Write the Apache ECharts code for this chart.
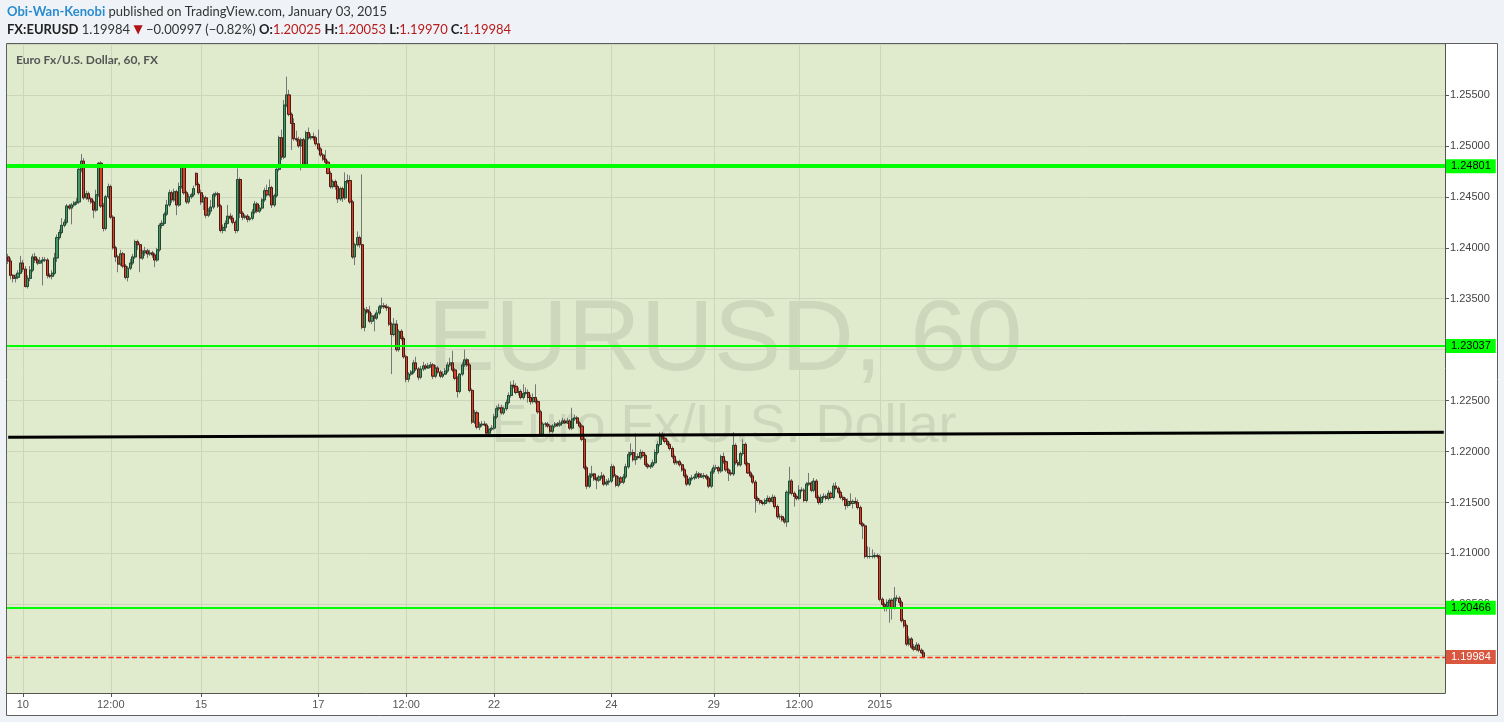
<!DOCTYPE html>
<html><head><meta charset="utf-8">
<script src="https://cdn.jsdelivr.net/npm/echarts@6/dist/echarts.min.js"></script>
<style>html,body{margin:0;padding:0;background:#eff3f7;}#c{width:1504px;height:722px;}</style>
</head><body><div id="c"></div>
<script>
// ---- data: hourly EUR/USD candles [open, close, low, high] ----
const candles = [
[1.2391,1.2387,1.2384,1.2394],[1.2387,1.2373,1.2369,1.2390],[1.2373,1.2370,1.2366,1.2374],[1.2370,1.2371,1.2366,1.2374],
[1.2371,1.2375,1.2369,1.2378],[1.2375,1.2385,1.2374,1.2392],[1.2385,1.2379,1.2376,1.2388],[1.2379,1.2362,1.2361,1.2382],
[1.2362,1.2370,1.2360,1.2373],[1.2370,1.2378,1.2367,1.2382],[1.2378,1.2391,1.2376,1.2394],[1.2391,1.2388,1.2385,1.2395],
[1.2388,1.2385,1.2383,1.2390],[1.2385,1.2387,1.2384,1.2391],[1.2387,1.2388,1.2363,1.2391],[1.2388,1.2388,1.2386,1.2391],
[1.2388,1.2373,1.2370,1.2390],[1.2373,1.2372,1.2370,1.2375],[1.2372,1.2375,1.2369,1.2378],[1.2375,1.2390,1.2373,1.2395],
[1.2390,1.2410,1.2386,1.2413],[1.2410,1.2415,1.2408,1.2418],[1.2415,1.2422,1.2413,1.2429],[1.2422,1.2425,1.2420,1.2428],
[1.2425,1.2441,1.2423,1.2443],[1.2441,1.2439,1.2437,1.2443],[1.2439,1.2442,1.2423,1.2444],[1.2442,1.2444,1.2440,1.2446],
[1.2444,1.2445,1.2442,1.2449],[1.2445,1.2477,1.2443,1.2480],[1.2477,1.2485,1.2474,1.2492],[1.2485,1.2449,1.2447,1.2488],
[1.2449,1.2453,1.2447,1.2456],[1.2453,1.2448,1.2445,1.2455],[1.2448,1.2445,1.2443,1.2450],[1.2445,1.2437,1.2429,1.2447],
[1.2437,1.2452,1.2435,1.2457],[1.2452,1.2483,1.2450,1.2484],[1.2483,1.2441,1.2439,1.2485],[1.2441,1.2419,1.2416,1.2444],
[1.2419,1.2450,1.2417,1.2452],[1.2450,1.2460,1.2448,1.2463],[1.2460,1.2430,1.2428,1.2462],[1.2430,1.2400,1.2398,1.2432],
[1.2400,1.2391,1.2386,1.2402],[1.2391,1.2384,1.2376,1.2393],[1.2384,1.2394,1.2382,1.2398],[1.2394,1.2382,1.2380,1.2396],
[1.2382,1.2371,1.2369,1.2384],[1.2371,1.2380,1.2367,1.2382],[1.2380,1.2385,1.2378,1.2389],[1.2385,1.2391,1.2383,1.2394],
[1.2391,1.2406,1.2389,1.2408],[1.2406,1.2403,1.2398,1.2408],[1.2403,1.2390,1.2376,1.2405],[1.2390,1.2395,1.2388,1.2398],
[1.2395,1.2397,1.2392,1.2401],[1.2397,1.2394,1.2390,1.2399],[1.2394,1.2395,1.2392,1.2398],[1.2395,1.2393,1.2390,1.2397],
[1.2393,1.2388,1.2381,1.2395],[1.2388,1.2398,1.2386,1.2400],[1.2398,1.2422,1.2396,1.2424],[1.2422,1.2424,1.2419,1.2427],
[1.2424,1.2433,1.2423,1.2435],[1.2433,1.2442,1.2431,1.2447],[1.2442,1.2454,1.2440,1.2457],[1.2454,1.2447,1.2444,1.2456],
[1.2447,1.2455,1.2445,1.2458],[1.2455,1.2442,1.2432,1.2457],[1.2442,1.2460,1.2440,1.2464],[1.2460,1.2479,1.2458,1.2482],
[1.2479,1.2454,1.2452,1.2481],[1.2454,1.2445,1.2443,1.2456],[1.2445,1.2450,1.2443,1.2453],[1.2450,1.2452,1.2448,1.2454],
[1.2452,1.2458,1.2450,1.2461],[1.2473,1.2462,1.2460,1.2474],[1.2462,1.2454,1.2452,1.2464],[1.2454,1.2445,1.2442,1.2457],
[1.2445,1.2449,1.2437,1.2452],[1.2449,1.2432,1.2429,1.2451],[1.2432,1.2436,1.2430,1.2439],[1.2436,1.2440,1.2433,1.2447],
[1.2440,1.2452,1.2438,1.2454],[1.2452,1.2453,1.2450,1.2455],[1.2453,1.2441,1.2439,1.2455],[1.2441,1.2417,1.2415,1.2443],
[1.2417,1.2420,1.2414,1.2423],[1.2420,1.2424,1.2416,1.2427],[1.2424,1.2431,1.2423,1.2442],[1.2431,1.2429,1.2427,1.2434],
[1.2429,1.2425,1.2423,1.2432],[1.2425,1.2417,1.2414,1.2427],[1.2417,1.2467,1.2415,1.2478],[1.2467,1.2434,1.2429,1.2469],
[1.2434,1.2430,1.2427,1.2436],[1.2430,1.2431,1.2428,1.2433],[1.2431,1.2428,1.2425,1.2433],[1.2428,1.2429,1.2426,1.2431],
[1.2429,1.2435,1.2427,1.2438],[1.2435,1.2443,1.2433,1.2446],[1.2443,1.2436,1.2434,1.2445],[1.2436,1.2439,1.2434,1.2442],
[1.2439,1.2447,1.2437,1.2449],[1.2447,1.2456,1.2445,1.2459],[1.2456,1.2452,1.2450,1.2462],[1.2452,1.2459,1.2450,1.2467],
[1.2459,1.2442,1.2439,1.2461],[1.2442,1.2451,1.2440,1.2453],[1.2451,1.2477,1.2449,1.2479],[1.2477,1.2508,1.2475,1.2510],
[1.2508,1.2489,1.2486,1.2516],[1.2489,1.2540,1.2487,1.2545],[1.2540,1.2550,1.2538,1.2568],[1.2550,1.2531,1.2529,1.2555],
[1.2531,1.2522,1.2496,1.2533],[1.2522,1.2507,1.2505,1.2527],[1.2507,1.2506,1.2504,1.2515],[1.2506,1.2500,1.2498,1.2509],
[1.2500,1.2506,1.2476,1.2508],[1.2506,1.2482,1.2480,1.2508],[1.2482,1.2513,1.2480,1.2515],[1.2513,1.2508,1.2506,1.2518],
[1.2508,1.2509,1.2506,1.2512],[1.2509,1.2508,1.2505,1.2513],[1.2508,1.2502,1.2500,1.2510],[1.2502,1.2497,1.2495,1.2516],
[1.2497,1.2491,1.2489,1.2499],[1.2491,1.2487,1.2485,1.2493],[1.2487,1.2484,1.2482,1.2496],[1.2484,1.2473,1.2472,1.2486],
[1.2473,1.2460,1.2458,1.2475],[1.2460,1.2465,1.2458,1.2467],[1.2465,1.2460,1.2457,1.2467],[1.2460,1.2448,1.2444,1.2462],
[1.2448,1.2458,1.2446,1.2460],[1.2458,1.2449,1.2445,1.2460],[1.2449,1.2465,1.2447,1.2474],[1.2465,1.2466,1.2463,1.2472],
[1.2466,1.2445,1.2443,1.2471],[1.2445,1.2391,1.2389,1.2447],[1.2391,1.2403,1.2383,1.2405],[1.2403,1.2410,1.2401,1.2416],
[1.2410,1.2403,1.2400,1.2412],[1.2403,1.2322,1.2320,1.2472],[1.2322,1.2339,1.2318,1.2341],[1.2339,1.2337,1.2335,1.2342],
[1.2337,1.2328,1.2326,1.2343],[1.2328,1.2333,1.2325,1.2336],[1.2333,1.2331,1.2318,1.2335],[1.2331,1.2336,1.2329,1.2339],
[1.2336,1.2342,1.2334,1.2344],[1.2342,1.2343,1.2340,1.2351],[1.2343,1.2342,1.2340,1.2346],[1.2342,1.2341,1.2338,1.2345],
[1.2341,1.2325,1.2323,1.2343],[1.2325,1.2315,1.2276,1.2327],[1.2315,1.2325,1.2313,1.2331],[1.2325,1.2300,1.2298,1.2329],
[1.2300,1.2318,1.2298,1.2320],[1.2318,1.2311,1.2309,1.2320],[1.2311,1.2293,1.2291,1.2313],[1.2293,1.2271,1.2268,1.2295],
[1.2271,1.2276,1.2268,1.2278],[1.2276,1.2278,1.2274,1.2280],[1.2278,1.2287,1.2276,1.2290],[1.2287,1.2281,1.2279,1.2293],
[1.2281,1.2273,1.2270,1.2283],[1.2273,1.2281,1.2271,1.2284],[1.2281,1.2284,1.2279,1.2288],[1.2284,1.2282,1.2280,1.2286],
[1.2282,1.2284,1.2281,1.2287],[1.2284,1.2285,1.2282,1.2288],[1.2285,1.2274,1.2271,1.2287],[1.2274,1.2282,1.2272,1.2285],
[1.2282,1.2278,1.2276,1.2284],[1.2278,1.2274,1.2272,1.2280],[1.2274,1.2276,1.2272,1.2279],[1.2276,1.2279,1.2275,1.2282],
[1.2279,1.2285,1.2277,1.2288],[1.2285,1.2287,1.2283,1.2292],[1.2287,1.2280,1.2278,1.2299],[1.2280,1.2272,1.2270,1.2282],
[1.2272,1.2259,1.2253,1.2274],[1.2259,1.2276,1.2257,1.2277],[1.2276,1.2285,1.2274,1.2288],[1.2285,1.2290,1.2283,1.2300],
[1.2290,1.2285,1.2283,1.2292],[1.2285,1.2260,1.2258,1.2287],[1.2260,1.2229,1.2227,1.2262],[1.2229,1.2238,1.2227,1.2241],
[1.2238,1.2224,1.2222,1.2240],[1.2224,1.2226,1.2221,1.2229],[1.2226,1.2227,1.2224,1.2230],[1.2227,1.2226,1.2225,1.2230],
[1.2226,1.2218,1.2216,1.2228],[1.2218,1.2222,1.2216,1.2225],[1.2222,1.2223,1.2220,1.2226],[1.2223,1.2234,1.2221,1.2237],
[1.2234,1.2242,1.2232,1.2245],[1.2242,1.2243,1.2240,1.2247],[1.2243,1.2238,1.2236,1.2246],[1.2238,1.2242,1.2236,1.2244],
[1.2242,1.2248,1.2240,1.2251],[1.2248,1.2255,1.2246,1.2258],[1.2255,1.2265,1.2253,1.2269],[1.2265,1.2264,1.2262,1.2270],
[1.2264,1.2258,1.2256,1.2267],[1.2258,1.2259,1.2255,1.2263],[1.2259,1.2253,1.2251,1.2261],[1.2253,1.2257,1.2251,1.2266],
[1.2257,1.2258,1.2255,1.2263],[1.2258,1.2253,1.2248,1.2261],[1.2253,1.2249,1.2246,1.2256],[1.2249,1.2253,1.2247,1.2257],
[1.2253,1.2249,1.2247,1.2266],[1.2249,1.2239,1.2237,1.2251],[1.2239,1.2217,1.2215,1.2241],[1.2217,1.2227,1.2215,1.2229],
[1.2227,1.2227,1.2224,1.2229],[1.2227,1.2225,1.2223,1.2229],[1.2225,1.2220,1.2218,1.2227],[1.2220,1.2225,1.2218,1.2227],
[1.2225,1.2227,1.2223,1.2229],[1.2227,1.2226,1.2224,1.2229],[1.2226,1.2228,1.2224,1.2231],[1.2228,1.2230,1.2227,1.2233],
[1.2230,1.2228,1.2227,1.2232],[1.2228,1.2230,1.2227,1.2233],[1.2230,1.2223,1.2221,1.2232],[1.2223,1.2232,1.2221,1.2243],
[1.2232,1.2233,1.2230,1.2236],[1.2233,1.2228,1.2227,1.2235],[1.2228,1.2225,1.2223,1.2230],[1.2225,1.2212,1.2210,1.2227],
[1.2212,1.2184,1.2182,1.2214],[1.2184,1.2166,1.2163,1.2186],[1.2166,1.2176,1.2164,1.2179],[1.2176,1.2178,1.2174,1.2186],
[1.2178,1.2173,1.2171,1.2179],[1.2173,1.2172,1.2163,1.2175],[1.2172,1.2175,1.2170,1.2177],[1.2175,1.2176,1.2173,1.2180],
[1.2176,1.2168,1.2166,1.2178],[1.2168,1.2170,1.2166,1.2173],[1.2170,1.2171,1.2167,1.2174],[1.2171,1.2185,1.2169,1.2188],
[1.2185,1.2176,1.2174,1.2187],[1.2176,1.2167,1.2165,1.2178],[1.2167,1.2174,1.2165,1.2176],[1.2174,1.2170,1.2168,1.2176],
[1.2170,1.2175,1.2168,1.2178],[1.2175,1.2185,1.2173,1.2188],[1.2185,1.2197,1.2183,1.2200],[1.2197,1.2199,1.2195,1.2208],
[1.2199,1.2192,1.2190,1.2202],[1.2192,1.2195,1.2187,1.2218],[1.2195,1.2194,1.2192,1.2198],[1.2194,1.2199,1.2192,1.2202],
[1.2199,1.2196,1.2194,1.2201],[1.2196,1.2187,1.2185,1.2198],[1.2187,1.2185,1.2183,1.2189],[1.2185,1.2186,1.2183,1.2188],
[1.2186,1.2189,1.2184,1.2192],[1.2189,1.2199,1.2187,1.2202],[1.2199,1.2207,1.2197,1.2210],[1.2207,1.2215,1.2205,1.2219],
[1.2215,1.2213,1.2211,1.2219],[1.2213,1.2210,1.2208,1.2215],[1.2210,1.2207,1.2205,1.2212],[1.2207,1.2203,1.2201,1.2209],
[1.2203,1.2195,1.2193,1.2205],[1.2195,1.2189,1.2187,1.2197],[1.2189,1.2190,1.2187,1.2192],[1.2190,1.2187,1.2185,1.2192],
[1.2187,1.2182,1.2180,1.2189],[1.2182,1.2176,1.2174,1.2184],[1.2176,1.2168,1.2166,1.2178],[1.2168,1.2173,1.2166,1.2175],
[1.2173,1.2174,1.2171,1.2177],[1.2174,1.2175,1.2172,1.2178],[1.2175,1.2178,1.2173,1.2181],[1.2178,1.2175,1.2173,1.2180],
[1.2175,1.2176,1.2174,1.2179],[1.2176,1.2176,1.2173,1.2179],[1.2176,1.2174,1.2172,1.2178],[1.2174,1.2166,1.2164,1.2176],
[1.2166,1.2180,1.2164,1.2183],[1.2180,1.2184,1.2178,1.2187],[1.2184,1.2184,1.2182,1.2187],[1.2184,1.2181,1.2178,1.2186],
[1.2181,1.2195,1.2179,1.2197],[1.2195,1.2190,1.2188,1.2199],[1.2190,1.2182,1.2180,1.2192],[1.2182,1.2179,1.2171,1.2184],
[1.2179,1.2178,1.2176,1.2182],[1.2178,1.2206,1.2176,1.2219],[1.2206,1.2189,1.2187,1.2208],[1.2189,1.2187,1.2185,1.2192],
[1.2187,1.2198,1.2185,1.2200],[1.2198,1.2207,1.2196,1.2212],[1.2207,1.2188,1.2186,1.2209],[1.2188,1.2179,1.2178,1.2190],
[1.2179,1.2176,1.2174,1.2181],[1.2176,1.2170,1.2168,1.2178],[1.2170,1.2154,1.2140,1.2172],[1.2154,1.2152,1.2150,1.2156],
[1.2152,1.2150,1.2148,1.2154],[1.2150,1.2149,1.2147,1.2152],[1.2149,1.2152,1.2147,1.2154],[1.2152,1.2154,1.2150,1.2157],
[1.2154,1.2151,1.2149,1.2156],[1.2151,1.2155,1.2149,1.2158],[1.2155,1.2146,1.2144,1.2157],[1.2146,1.2136,1.2134,1.2148],
[1.2136,1.2136,1.2133,1.2139],[1.2136,1.2133,1.2131,1.2138],[1.2133,1.2131,1.2129,1.2135],[1.2131,1.2160,1.2126,1.2162],
[1.2160,1.2171,1.2158,1.2185],[1.2171,1.2159,1.2157,1.2173],[1.2159,1.2156,1.2146,1.2161],[1.2156,1.2154,1.2152,1.2158],
[1.2154,1.2162,1.2152,1.2167],[1.2162,1.2162,1.2160,1.2165],[1.2162,1.2152,1.2150,1.2164],[1.2152,1.2168,1.2150,1.2170],
[1.2168,1.2169,1.2166,1.2179],[1.2169,1.2162,1.2160,1.2171],[1.2162,1.2171,1.2160,1.2174],[1.2171,1.2155,1.2153,1.2173],
[1.2155,1.2150,1.2148,1.2157],[1.2150,1.2155,1.2148,1.2158],[1.2155,1.2156,1.2153,1.2159],[1.2156,1.2154,1.2152,1.2158],
[1.2154,1.2159,1.2152,1.2162],[1.2159,1.2155,1.2153,1.2161],[1.2155,1.2166,1.2153,1.2169],[1.2166,1.2164,1.2162,1.2170],
[1.2164,1.2160,1.2158,1.2166],[1.2160,1.2155,1.2153,1.2162],[1.2155,1.2153,1.2151,1.2157],[1.2153,1.2147,1.2143,1.2155],
[1.2147,1.2151,1.2145,1.2154],[1.2151,1.2149,1.2147,1.2159],[1.2149,1.2151,1.2144,1.2153],[1.2151,1.2150,1.2148,1.2155],
[1.2150,1.2145,1.2143,1.2153],[1.2145,1.2129,1.2128,1.2147],[1.2129,1.2127,1.2114,1.2131],[1.2127,1.2097,1.2095,1.2129],
[1.2097,1.2097,1.2095,1.2107],[1.2097,1.2097,1.2095,1.2106],[1.2097,1.2097,1.2095,1.2104],[1.2097,1.2098,1.2095,1.2101],
[1.2098,1.2097,1.2095,1.2100],[1.2097,1.2055,1.2053,1.2099],[1.2055,1.2050,1.2048,1.2057],[1.2050,1.2048,1.2043,1.2052],
[1.2048,1.2052,1.2043,1.2055],[1.2052,1.2054,1.2032,1.2056],[1.2054,1.2047,1.2035,1.2056],[1.2047,1.2056,1.2045,1.2067],
[1.2056,1.2056,1.2053,1.2059],[1.2056,1.2052,1.2049,1.2058],[1.2052,1.2034,1.2032,1.2054],[1.2034,1.2029,1.2027,1.2036],
[1.2029,1.2011,1.2009,1.2031],[1.2011,1.2016,1.2009,1.2019],[1.2016,1.2008,1.2006,1.2018],[1.2008,1.2006,1.2004,1.2011],
[1.2006,1.2010,1.2004,1.2013],[1.2010,1.2005,1.2003,1.2012],[1.2005,1.20025,1.2001,1.2007],[1.20025,1.19984,1.19970,1.20053]
];
const slotCount = 589;                       // hourly slots on the time axis (incl. empty right margin)
const xTickIndex = [6, 42, 79, 127, 163, 199, 247, 289, 324, 357];
const xTickLabels = ['10', '12:00', '15', '17', '12:00', '22', '24', '29', '12:00', '2015'];
const levelValues = [1.24801, 1.23037, 1.20466];
const levelWidths = [4, 2, 2];
const lastPrice = 1.19984;
const trendStart = [0, 1.2214];
const trendEnd = [588, 1.2219];
const yMin = 1.1963, yMax = 1.26;

// ---- build ----
const slots = Array.from({length: slotCount}, (_, i) => String(i));
const tickMap = {};
xTickIndex.forEach((k, j) => { tickMap[k] = xTickLabels[j]; });
const isTick = (i) => tickMap[i] !== undefined;
const bodies = candles.map(d => [d[0], d[1], Math.min(d[0], d[1]), Math.max(d[0], d[1])]);
const gridColor = '#cdd6ba';
const fmt5 = v => v.toFixed(5);

const markData = levelValues.map((v, k) => ({
  yAxis: v,
  lineStyle: {color: '#00ff00', width: levelWidths[k], type: 'solid'},
  label: {show: true, position: 'end', distance: 1, formatter: fmt5(v), color: '#000',
          backgroundColor: '#00ff00', padding: [2, 5, 1, 5], fontSize: 11, fontFamily: 'Liberation Sans'}
}));
markData.push({
  yAxis: lastPrice,
  lineStyle: {color: '#ff2a10', width: 1.3, type: 'dashed', dashOffset: 0, opacity: 1},
  label: {show: true, position: 'end', distance: 1, formatter: fmt5(lastPrice), color: '#fff',
          backgroundColor: '#d9573f', padding: [2, 5, 1, 5], fontSize: 11, fontFamily: 'Liberation Sans'}
});
markData.push([
  {coord: [slots[trendStart[0]], trendStart[1]], lineStyle: {color: '#000', width: 3, type: 'solid'}, label: {show: false}},
  {coord: [slots[trendEnd[0]], trendEnd[1]]}
]);

const chart = echarts.init(document.getElementById('c'), null, {renderer: 'canvas'});
chart.setOption({
  animation: false,
  backgroundColor: '#eff3f7',
  grid: {left: 7, right: 59, top: 44, bottom: 29, show: false},
  xAxis: {
    type: 'category', data: slots, boundaryGap: true,
    axisLine: {lineStyle: {color: '#555', width: 1}},
    axisTick: {show: true, alignWithLabel: true, interval: isTick, length: 4, lineStyle: {color: '#555'}},
    axisLabel: {interval: isTick, formatter: (v, i) => tickMap[i] || '', color: '#555', fontSize: 11,
                fontFamily: 'Liberation Sans', margin: 6},
    splitLine: {show: true, interval: isTick, alignWithLabel: true, lineStyle: {color: gridColor, width: 1}}
  },
  yAxis: {
    type: 'value', position: 'right', min: yMin, max: yMax, scale: true,
    splitNumber: 13, minInterval: 0.005, maxInterval: 0.005,
    axisLine: {show: true, lineStyle: {color: '#555', width: 1}},
    axisTick: {show: true, length: 4, lineStyle: {color: '#555'}},
    axisLabel: {formatter: fmt5, color: '#444', fontSize: 11, fontFamily: 'Liberation Sans', margin: 5,
                showMinLabel: false, showMaxLabel: false},
    splitLine: {show: true, lineStyle: {color: gridColor, width: 1}}
  },
  graphic: [
    {type: 'rect', z: -10, silent: true, shape: {x: 6.5, y: 43.5, width: 1491, height: 672},
     style: {fill: '#ffffff', stroke: '#5e5e5e', lineWidth: 1}},
    {type: 'rect', z: -9, silent: true, shape: {x: 7, y: 44, width: 1438, height: 649}, style: {fill: '#e0ebcd'}},
    {type: 'text', z: -8, silent: true, x: 725, y: 342,
     style: {text: 'EURUSD, 60', font: '101px "Liberation Sans"', fill: '#cdd7bc', align: 'center', verticalAlign: 'middle'}},
    {type: 'text', z: -8, silent: true, x: 724, y: 427,
     style: {text: 'Euro Fx/U.S. Dollar', font: '54px "Liberation Sans"', fill: '#cdd7bc', align: 'center', verticalAlign: 'middle'}},
    {type: 'text', z: 10, silent: true, x: 16, y: 60,
     style: {text: 'Euro Fx/U.S. Dollar, 60, FX', font: 'bold 12px Lato', fill: '#555', verticalAlign: 'middle'}},
    {type: 'text', z: 10, silent: true, x: 7, y: 12,
     style: {text: '{a|Obi-Wan-Kenobi}{b| published on TradingView.com, January 03, 2015}', verticalAlign: 'middle',
       rich: {a: {fill: '#2a8ccf', fontFamily: 'Lato', fontSize: 13, fontWeight: 'bold'},
              b: {fill: '#333', fontFamily: 'Lato', fontSize: 13}}}},
    {type: 'text', z: 10, silent: true, x: 7, y: 30,
     style: {text: '{k|FX:EURUSD}{n| 1.19984 }{t|▼}{n| −0.00997 (−0.82%) }{k|O:}{r|1.20025}{k| H:}{r|1.20053}{k| L:}{r|1.19970}{k| C:}{r|1.19984}',
       verticalAlign: 'middle',
       rich: {k: {fill: '#222', fontFamily: 'Lato', fontSize: 13, fontWeight: 'bold'},
              n: {fill: '#333', fontFamily: 'Lato', fontSize: 13},
              t: {fill: '#b01515', fontFamily: 'DejaVu Sans', fontSize: 12},
              r: {fill: '#b71c1c', fontFamily: 'Lato', fontSize: 13}}}}
  ],
  series: [
    {type: 'candlestick', name: 'wicks', data: candles, barWidth: 2.6, silent: true, z: 2,
     itemStyle: {color: 'rgba(0,0,0,0)', color0: 'rgba(0,0,0,0)', borderColor: '#777', borderColor0: '#777', borderWidth: 1}},
    {type: 'candlestick', name: 'EURUSD', data: bodies, barWidth: 2.6, silent: true, z: 3,
     itemStyle: {color: '#4a9567', color0: '#d4422c', borderColor: '#1f4a30', borderColor0: '#4d1a12', borderWidth: 1},
     markLine: {silent: true, symbol: 'none', animation: false, precision: 5, data: markData}}
  ]
});
</script></body></html>
